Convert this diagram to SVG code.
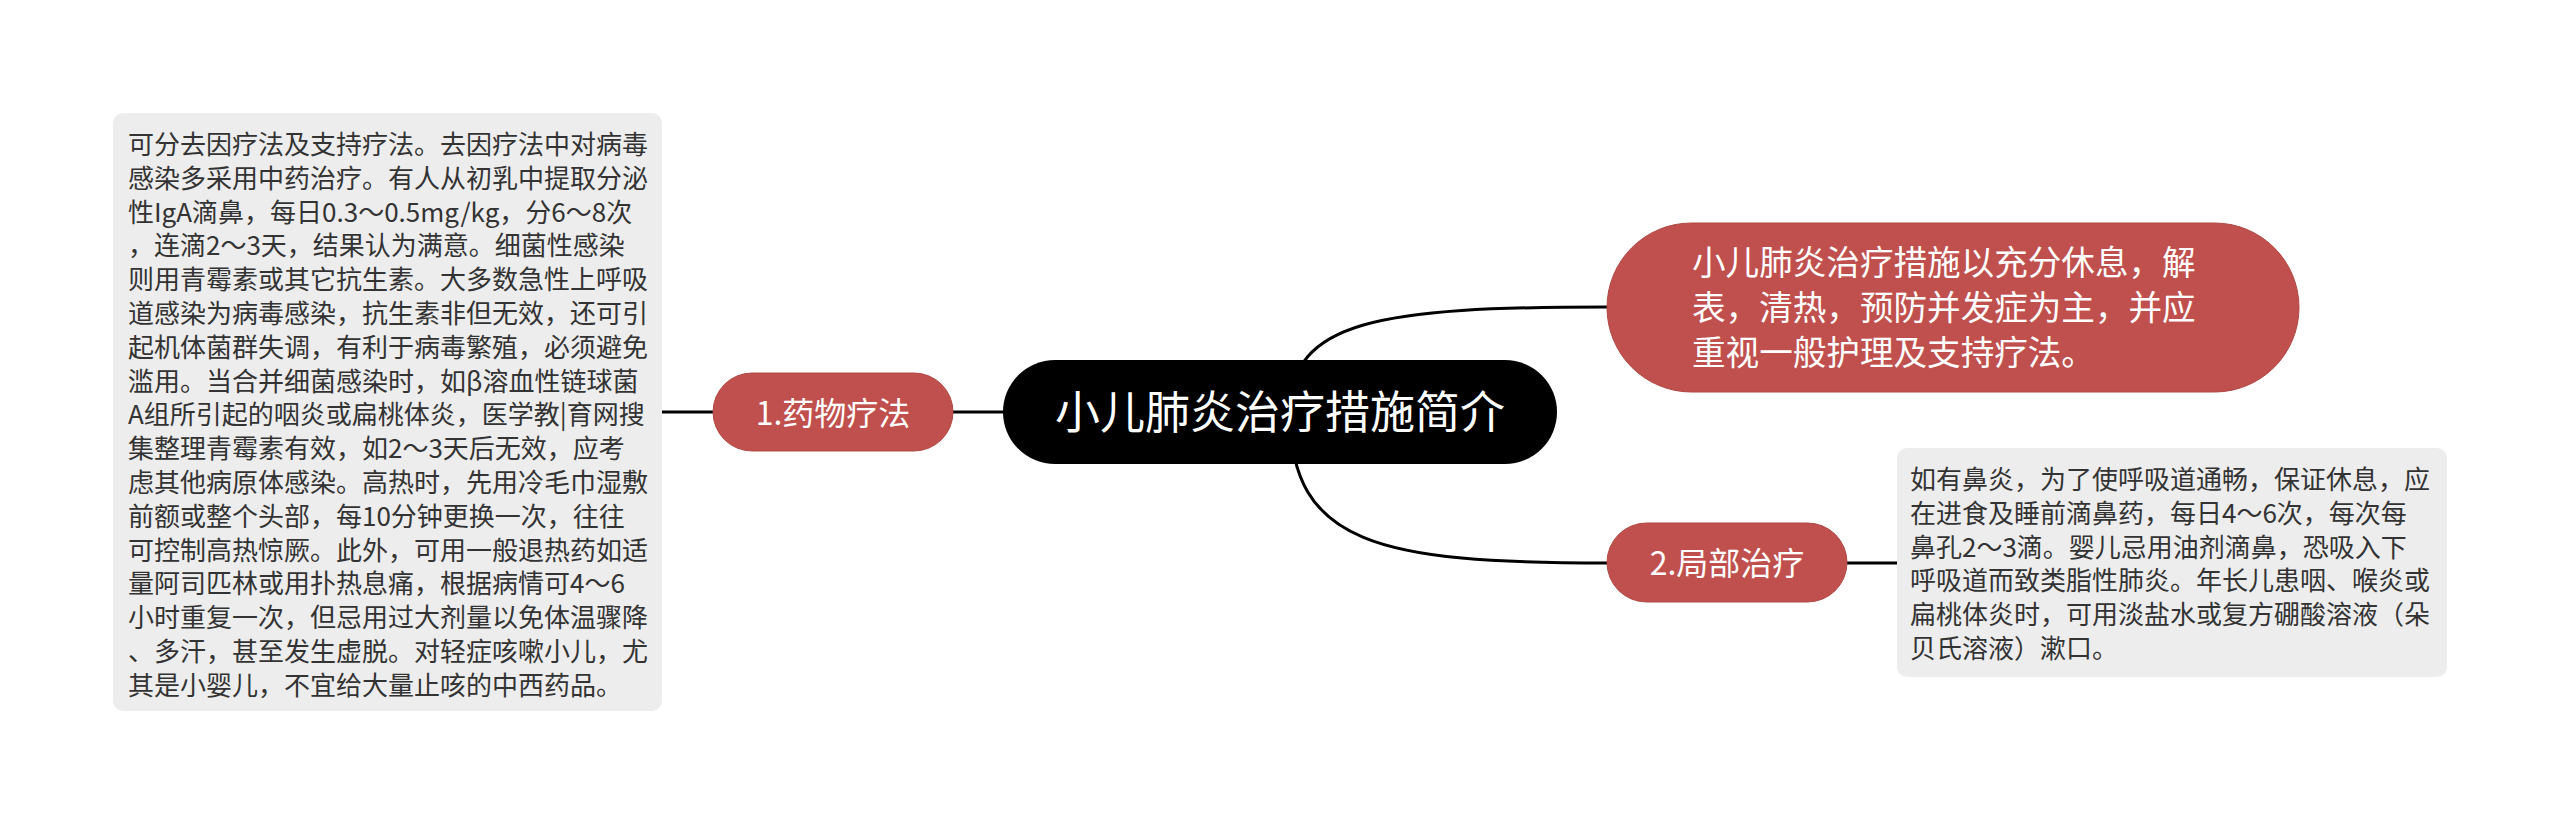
<svg xmlns="http://www.w3.org/2000/svg" width="2560" height="825" viewBox="0 0 2560 825">
<style>
.bg{fill:#ffffff}
.conn{fill:none;stroke:#000000;stroke-width:3;stroke-linecap:round}
.red{fill:#C0504D;stroke:#B04844;stroke-width:1}
.box{fill:#EDEDED}
.t{font-family:"Noto Sans CJK SC","Noto Sans",sans-serif}
.w{fill:#ffffff}
.d{fill:#333333;font-size:26px}
.mid{text-anchor:middle}
</style>
<rect class="bg" x="0" y="0" width="2560" height="825"/>
<g id="connectors">
<line class="conn" x1="662" y1="412" x2="713" y2="412"/>
<line class="conn" x1="953" y1="412" x2="1003" y2="412"/>
<path class="conn" d="M1290 412 C1290 320 1380 307 1607 307"/>
<path class="conn" d="M1290 412 C1290 545 1380 563 1607 563"/>
<line class="conn" x1="1847" y1="563" x2="1897" y2="563"/>
</g>
<g id="node-left-detail">
<rect class="box" x="113" y="113" width="549" height="598" rx="10"/>
<text class="t d">
<tspan x="128" y="154">可分去因疗法及支持疗法。去因疗法中对病毒</tspan>
<tspan x="128" y="187.8">感染多采用中药治疗。有人从初乳中提取分泌</tspan>
<tspan x="128" y="221.6">性IgA滴鼻，每日0.3～0.5mg/kg，分6～8次</tspan>
<tspan x="128" y="255.4">，连滴2～3天，结果认为满意。细菌性感染</tspan>
<tspan x="128" y="289.2">则用青霉素或其它抗生素。大多数急性上呼吸</tspan>
<tspan x="128" y="323">道感染为病毒感染，抗生素非但无效，还可引</tspan>
<tspan x="128" y="356.8">起机体菌群失调，有利于病毒繁殖，必须避免</tspan>
<tspan x="128" y="390.6">滥用。当合并细菌感染时，如β溶血性链球菌</tspan>
<tspan x="128" y="424.4">A组所引起的咽炎或扁桃体炎，医学教|育网搜</tspan>
<tspan x="128" y="458.2">集整理青霉素有效，如2～3天后无效，应考</tspan>
<tspan x="128" y="492">虑其他病原体感染。高热时，先用冷毛巾湿敷</tspan>
<tspan x="128" y="525.8">前额或整个头部，每10分钟更换一次，往往</tspan>
<tspan x="128" y="559.6">可控制高热惊厥。此外，可用一般退热药如适</tspan>
<tspan x="128" y="593.4">量阿司匹林或用扑热息痛，根据病情可4～6</tspan>
<tspan x="128" y="627.2">小时重复一次，但忌用过大剂量以免体温骤降</tspan>
<tspan x="128" y="661">、多汗，甚至发生虚脱。对轻症咳嗽小儿，尤</tspan>
<tspan x="128" y="694.8">其是小婴儿，不宜给大量止咳的中西药品。</tspan>
</text>
</g>
<g id="node-1">
<rect class="red" x="713" y="373" width="240" height="78" rx="39"/>
<text class="t w mid" x="833" y="425" font-size="32">1.药物疗法</text>
</g>
<g id="node-center">
<rect x="1003" y="360" width="554" height="104" rx="52" fill="#000000"/>
<text class="t w mid" x="1280" y="429" font-size="45">小儿肺炎治疗措施简介</text>
</g>
<g id="node-summary">
<rect class="red" x="1607" y="223" width="692" height="169" rx="84.5"/>
<text class="t w" font-size="33.6">
<tspan x="1692" y="275">小儿肺炎治疗措施以充分休息，解</tspan>
<tspan x="1692" y="320">表，清热，预防并发症为主，并应</tspan>
<tspan x="1692" y="365">重视一般护理及支持疗法。</tspan>
</text>
</g>
<g id="node-2">
<rect class="red" x="1607" y="523" width="240" height="79" rx="39.5"/>
<text class="t w mid" x="1727" y="575" font-size="32">2.局部治疗</text>
</g>
<g id="node-right-detail">
<rect class="box" x="1897" y="448" width="550" height="229" rx="10"/>
<text class="t d">
<tspan x="1910" y="489">如有鼻炎，为了使呼吸道通畅，保证休息，应</tspan>
<tspan x="1910" y="522.8">在进食及睡前滴鼻药，每日4～6次，每次每</tspan>
<tspan x="1910" y="556.6">鼻孔2～3滴。婴儿忌用油剂滴鼻，恐吸入下</tspan>
<tspan x="1910" y="590.4">呼吸道而致类脂性肺炎。年长儿患咽、喉炎或</tspan>
<tspan x="1910" y="624.2">扁桃体炎时，可用淡盐水或复方硼酸溶液（朵</tspan>
<tspan x="1910" y="658">贝氏溶液）漱口。</tspan>
</text>
</g>
</svg>
